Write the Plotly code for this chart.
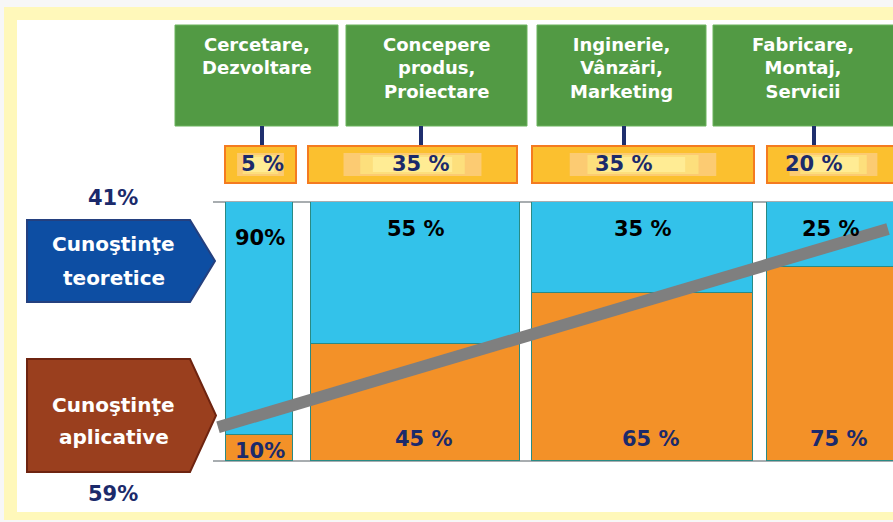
import plotly.graph_objects as go

# ---------------- data ----------------
categories = ["Cercetare,<br>Dezvoltare", "Concepere<br>produs,<br>Proiectare",
              "Inginerie,<br>Vânzări,<br>Marketing", "Fabricare,<br>Montaj,<br>Servicii"]
share_labels = ["5 %", "35 %", "35 %", "20 %"]
teoretice = [90, 55, 35, 25]
aplicative = [10, 45, 65, 75]
teoretice_labels = ["90%", "55 %", "35 %", "25 %"]
aplicative_labels = ["10%", "45 %", "65 %", "75 %"]
total_teoretice = "41%"
total_aplicative = "59%"
trend_values = [13, 89.6]
side_labels = [["Cunoştinţe", "teoretice"], ["Cunoştinţe", "aplicative"]]

# ---------------- layout geometry (pixels) ----------------
W, H = 893, 522
PLOT_TOP, PLOT_BOT = 202, 461
BAR_EDGES = [(226, 293), (311, 520), (532, 753), (767, 895)]
HEAD_EDGES = [(175, 338), (346, 527), (537, 706), (713, 900)]
PCT_EDGES = [(225, 296), (308, 517), (532, 754), (767, 900)]
CONNECT_X = [262, 421, 624, 814]
TREND_X = [218, 888]


def px(x):
    return x / W


def py(y):
    return 1 - y / H


centers = [(a + b) / 2 for a, b in BAR_EDGES]
widths = [b - a for a, b in BAR_EDGES]

BLUE = "#33C2EA"
ORANGE = "#F39128"
NAVY = "#1B2A6B"

fig = go.Figure()
fig.add_trace(go.Bar(x=centers, y=aplicative, width=widths, marker=dict(color=ORANGE, line=dict(color="#2A8A84", width=1.5)),
                     hoverinfo="skip", showlegend=False))
fig.add_trace(go.Bar(x=centers, y=teoretice, width=widths, marker=dict(color=BLUE, line=dict(color="#2A8A84", width=1.5)),
                     hoverinfo="skip", showlegend=False))
fig.add_trace(go.Scatter(x=TREND_X, y=trend_values, mode="lines", line=dict(color="#7F7F7F", width=12),
                         hoverinfo="skip", showlegend=False))

shapes = []
# background frame
shapes.append(dict(type="rect", xref="paper", yref="paper", x0=px(4), x1=px(905), y0=py(520), y1=py(7),
                   fillcolor="#FFF8BA", line=dict(width=0), layer="below"))
shapes.append(dict(type="rect", xref="paper", yref="paper", x0=px(17), x1=px(905), y0=py(512), y1=py(20),
                   fillcolor="#FFFFFF", line=dict(width=0), layer="below"))
# grid lines top & bottom
for yy in (PLOT_TOP, PLOT_BOT):
    shapes.append(dict(type="line", xref="paper", yref="paper", x0=px(213), x1=px(900), y0=py(yy), y1=py(yy),
                       line=dict(color="#A8ADB0", width=2), layer="below"))
# header boxes
for a, b in HEAD_EDGES:
    shapes.append(dict(type="rect", xref="paper", yref="paper", x0=px(a), x1=px(b), y0=py(126), y1=py(25),
                       fillcolor="#529A44", line=dict(color="#6BB35C", width=1), layer="below"))
# connectors
for cx in CONNECT_X:
    shapes.append(dict(type="line", xref="paper", yref="paper", x0=px(cx), x1=px(cx), y0=py(126), y1=py(147),
                       line=dict(color="#1F2F6E", width=4), layer="below"))
# percent boxes with lighter centre
for a, b in PCT_EDGES:
    shapes.append(dict(type="rect", xref="paper", yref="paper", x0=px(a), x1=px(b), y0=py(183), y1=py(146),
                       fillcolor="#FBC02F", line=dict(color="#F47B20", width=2), layer="below"))
    w = b - a
    for inset, (t, btm), col in [(0.17, (153, 176), "#FCCB72"), (0.25, (155, 174), "#FDDF7C"), (0.31, (157, 172), "#FFEC94")]:
        shapes.append(dict(type="rect", xref="paper", yref="paper", x0=px(a + w * inset), x1=px(b - w * inset),
                           y0=py(btm), y1=py(t), fillcolor=col, line=dict(width=0), layer="below"))


def arrow_path(x0, x1, xt, y0, y1):
    ym = (y0 + y1) / 2
    pts = [(x0, y0), (x1, y0), (xt, ym), (x1, y1), (x0, y1)]
    return "M " + " L ".join(f"{px(x):.5f},{py(y):.5f}" for x, y in pts) + " Z"


shapes.append(dict(type="path", xref="paper", yref="paper", path=arrow_path(27, 190, 215, 220, 302),
                   fillcolor="#0D4EA3", line=dict(color="#24407F", width=2), layer="below"))
shapes.append(dict(type="path", xref="paper", yref="paper", path=arrow_path(27, 190, 216, 359, 472),
                   fillcolor="#9A3F1E", line=dict(color="#6E2410", width=2), layer="below"))

ann = []
BOLD = "DejaVu Sans"
# header texts
for (a, b), txt in zip(HEAD_EDGES[:3] + [(713, 893)], categories):
    ann.append(dict(xref="paper", yref="paper", x=px((a + b) / 2), y=py(32), xanchor="center", yanchor="top",
                    text=f"<b>{txt}</b>", showarrow=False, font=dict(family="DejaVu Sans", size=18, color="white")))
# percent box texts
for cx, t in zip(CONNECT_X, share_labels):
    ann.append(dict(xref="paper", yref="paper", x=px(cx), y=py(164), xanchor="center", yanchor="middle",
                    text=f"<b>{t}</b>", showarrow=False, font=dict(family=BOLD, size=21, color=NAVY)))
# bar labels
for i, (c, tl, al) in enumerate(zip(centers, teoretice_labels, aplicative_labels)):
    ty = 238 if i == 0 else 229
    by = 451 if i == 0 else 439
    dx = 0 if i == 0 else 8
    ann.append(dict(xref="x", yref="paper", x=c, y=py(ty), xanchor="center", yanchor="middle",
                    text=f"<b>{tl}</b>", showarrow=False, font=dict(family=BOLD, size=21, color="black")))
    ann.append(dict(xref="x", yref="paper", x=c, y=py(by), xanchor="center", yanchor="middle", xshift=dx,
                    text=f"<b>{al}</b>", showarrow=False, font=dict(family=BOLD, size=21, color=NAVY)))
# totals
ann.append(dict(xref="paper", yref="paper", x=px(113), y=py(198), text=f"<b>{total_teoretice}</b>", showarrow=False,
                xanchor="center", yanchor="middle", font=dict(family=BOLD, size=21, color=NAVY)))
ann.append(dict(xref="paper", yref="paper", x=px(113), y=py(494), text=f"<b>{total_aplicative}</b>", showarrow=False,
                xanchor="center", yanchor="middle", font=dict(family=BOLD, size=21, color=NAVY)))
# side arrow labels
for (l1, l2), (y1, y2) in zip(side_labels, [(244, 278), (405, 437)]):
    for t, yy in ((l1, y1), (l2, y2)):
        ann.append(dict(xref="paper", yref="paper", x=px(114), y=py(yy), text=f"<b>{t}</b>", showarrow=False,
                        xanchor="center", yanchor="middle", font=dict(family=BOLD, size=20, color="white")))

fig.update_layout(
    width=W, height=H, margin=dict(l=0, r=0, t=0, b=0),
    paper_bgcolor="#F7F7F7", plot_bgcolor="rgba(0,0,0,0)",
    barmode="stack", bargap=0,
    xaxis=dict(range=[0, W], domain=[0, 1], visible=False, fixedrange=True),
    yaxis=dict(range=[0, 100], domain=[1 - PLOT_BOT / H, 1 - PLOT_TOP / H], visible=False, fixedrange=True),
    shapes=shapes, annotations=ann, showlegend=False,
)

fig.write_html("out.html", config={"displayModeBar": False},
               post_script="document.body.style.margin='0';document.body.style.overflow='hidden';")
